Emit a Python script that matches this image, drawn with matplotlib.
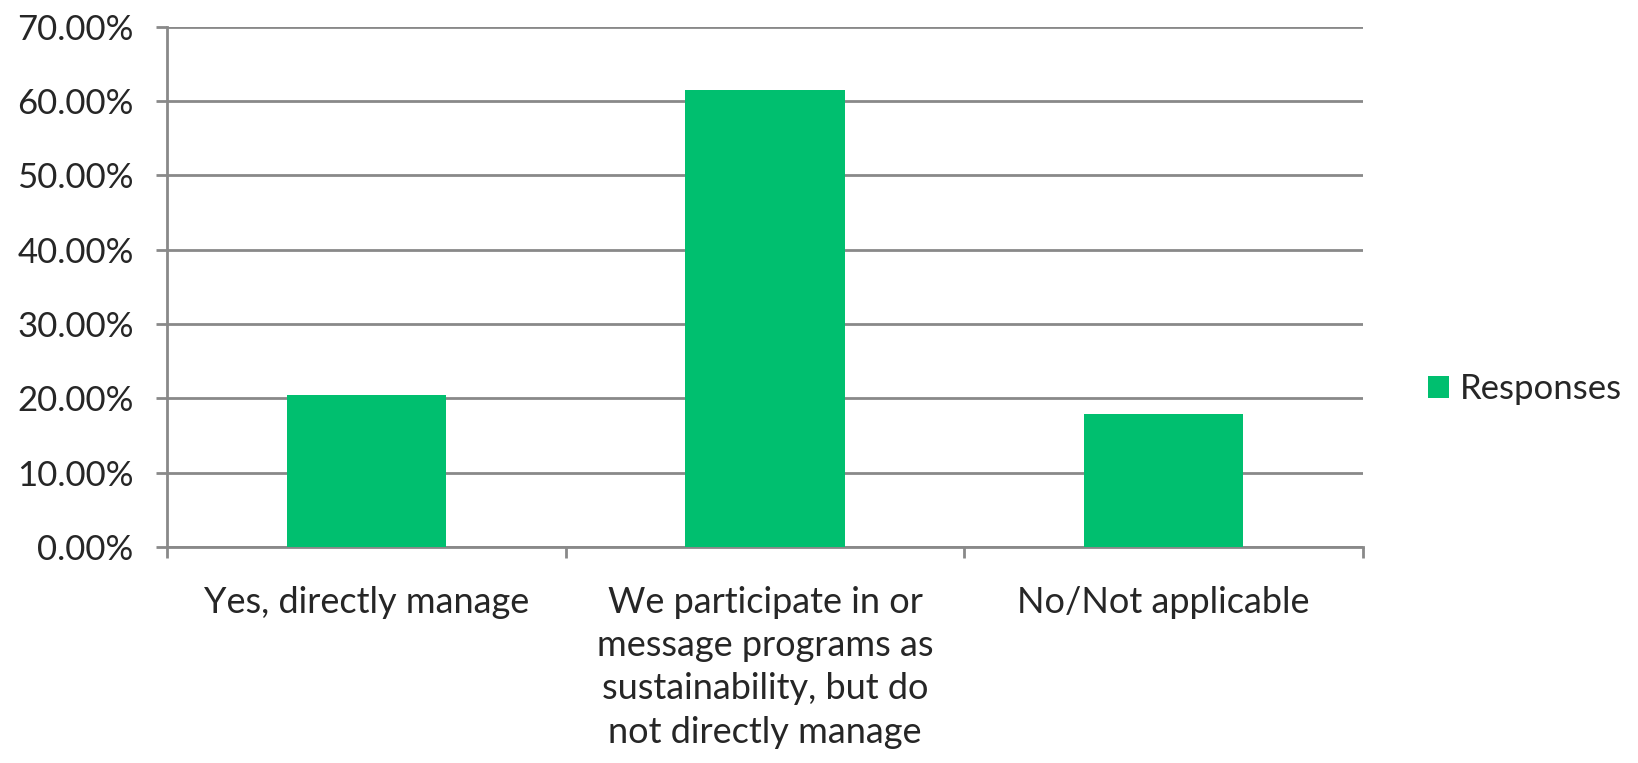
import numpy as np
import matplotlib.pyplot as plt
from matplotlib.ticker import FixedLocator, PercentFormatter

# data
categories = ['Yes, directly manage',
              'We participate in or\nmessage programs as\nsustainability, but do\nnot directly manage',
              'No/Not applicable']
responses = [20.51, 61.54, 17.95]
y_ticks = [0, 10, 20, 30, 40, 50, 60, 70]
series_name = 'Responses'

plt.rcParams['font.family'] = ['Lato', 'DejaVu Sans']

bar_color = '#00BF6F'
grid_color = '#898989'
text_color = '#262626'

fig = plt.figure(figsize=(16.38, 7.63), dpi=100)
ax = fig.add_axes([0.102, 0.283, 0.730, 0.682])

x = np.arange(len(categories))
ax.bar(x, responses, width=0.4, color=bar_color, label=series_name, zorder=3)

ax.set_xlim(-0.5, len(categories) - 0.5)
ax.set_ylim(0, 70)
ax.yaxis.set_major_locator(FixedLocator(y_ticks))
ax.yaxis.set_major_formatter(PercentFormatter(decimals=2))
ax.grid(axis='y', color=grid_color, linewidth=2.0, zorder=0)

ax.set_xticks(x)
ax.set_xticklabels(categories, fontsize=26, color=text_color, linespacing=1.38)
ax.set_xticks(np.arange(-0.5, len(categories)), minor=True)
ax.tick_params(axis='x', which='major', length=0, pad=28)
ax.tick_params(axis='x', which='minor', length=8, width=2, color=grid_color)
ax.tick_params(axis='y', length=8, width=2, color=grid_color, pad=16,
               labelsize=25, labelcolor=text_color)

for side in ['top', 'right']:
    ax.spines[side].set_visible(False)
for side in ['left', 'bottom']:
    ax.spines[side].set_color(grid_color)
    ax.spines[side].set_linewidth(2.0)

leg = fig.legend(loc='center left', bbox_to_anchor=(0.853, 0.49), frameon=False,
                 fontsize=25, handlelength=0.6, handleheight=0.6, handletextpad=0.3)
for t in leg.get_texts():
    t.set_color(text_color)

plt.savefig('out.png', dpi=100)
